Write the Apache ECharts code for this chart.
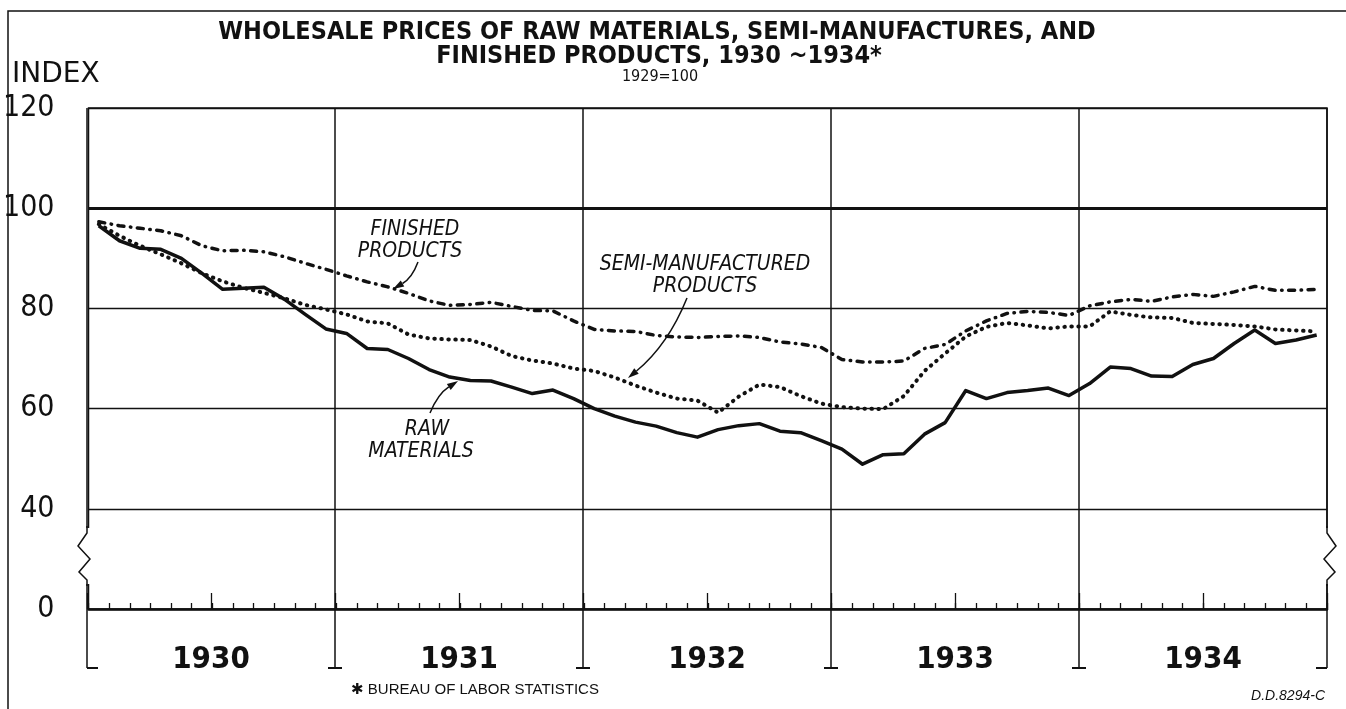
<!DOCTYPE html>
<html>
<head>
<meta charset="utf-8">
<title>Wholesale prices of raw materials, semi-manufactures and finished products, 1930-1934</title>
<script src="https://cdn.jsdelivr.net/npm/echarts@6/dist/echarts.min.js"></script>
<style>
html, body { margin: 0; padding: 0; background: #fff; }
#main { width: 1346px; height: 709px; }
</style>
</head>
<body>
<div id="main"></div>
<script>
// index numbers, 1929 = 100, monthly from Jan 1930 to Dec 1934
const years = ["1930", "1931", "1932", "1933", "1934"];
const monthNames = ["Jan", "Feb", "Mar", "Apr", "May", "Jun", "Jul", "Aug", "Sep", "Oct", "Nov", "Dec"];

const rawMaterials = [
	96.5, 93.5, 92.0, 91.8, 90.0, 87.0, 83.8, 84.0, 84.2, 81.8, 78.8, 75.9,
	75.0, 72.0, 71.8, 70.0, 67.8, 66.3, 65.6, 65.5, 64.3, 63.0, 63.7, 62.0,
	60.0, 58.5, 57.3, 56.5, 55.2, 54.3, 55.8, 56.6, 57.0, 55.5, 55.2, 53.6,
	51.9, 48.9, 50.8, 51.0, 54.9, 57.2, 63.6, 62.0, 63.2, 63.6, 64.1, 62.6,
	65.0, 68.3, 68.0, 66.5, 66.4, 68.8, 70.0, 73.0, 75.7, 73.0, 73.7, 74.7
];
const semiManufactured = [
	96.8, 94.5, 92.5, 90.8, 89.0, 87.0, 85.4, 84.1, 83.1, 82.0, 80.7, 79.8,
	78.8, 77.4, 77.0, 74.8, 74.0, 73.8, 73.7, 72.4, 70.5, 69.6, 69.0, 68.0,
	67.5, 66.2, 64.6, 63.2, 62.0, 61.6, 59.2, 62.4, 64.8, 64.3, 62.5, 61.0,
	60.3, 60.0, 59.9, 62.5, 67.5, 71.0, 74.4, 76.3, 77.1, 76.6, 76.0, 76.4,
	76.4, 79.4, 78.7, 78.2, 78.1, 77.1, 76.9, 76.7, 76.4, 75.8, 75.6, 75.4
];
const finishedProducts = [
	97.3, 96.5, 96.0, 95.5, 94.5, 92.5, 91.5, 91.6, 91.3, 90.3, 89.0, 87.8,
	86.5, 85.3, 84.3, 83.0, 81.5, 80.6, 80.8, 81.2, 80.4, 79.6, 79.5, 77.5,
	75.8, 75.5, 75.4, 74.6, 74.3, 74.2, 74.4, 74.5, 74.2, 73.3, 72.9, 72.2,
	69.8, 69.3, 69.3, 69.5, 72.0, 72.8, 75.5, 77.5, 79.0, 79.4, 79.2, 78.6,
	80.5, 81.3, 81.8, 81.4, 82.3, 82.8, 82.4, 83.3, 84.4, 83.6, 83.6, 83.8
];

// y axis: the scale is broken below 40, the bottom line stands for 0
const yMin = 20, yMax = 120, yStep = 20;
const yTickLabels = { 20: "0", 40: "40", 60: "60", 80: "80", 100: "100", 120: "120" };

const months = [];
const halfYears = [];
years.forEach(y => {
	monthNames.forEach(m => months.push(m + " " + y));
	halfYears.push("H1 " + y, "H2 " + y);
});

const INK = "#111";
const NARROW = '"Liberation Sans Narrow", "DejaVu Sans Condensed", sans-serif';
const G = { left: 87, right: 19, top: 108, bottom: 100 };
const W = 1346, H = 709;

const chart = echarts.init(document.getElementById("main"), null, { renderer: "canvas" });

function txt(text, x, y, font, align) {
	return {
		type: "text", z: 100, x: x, y: y,
		style: { text: text, font: font, fill: INK, align: align || "center", textAlign: align || "center", verticalAlign: "middle", textVerticalAlign: "middle" }
	};
}

// curved leader with an arrow head at the end
function arrow(x1, y1, cx, cy, x2, y2) {
	const dx = x2 - cx, dy = y2 - cy, len = Math.sqrt(dx * dx + dy * dy);
	const ux = dx / len, uy = dy / len;
	const bx = x2 - ux * 11, by = y2 - uy * 11;
	return [
		{ type: "bezierCurve", z: 100, shape: { x1: x1, y1: y1, x2: bx, y2: by, cpx1: cx, cpy1: cy }, style: { stroke: INK, lineWidth: 1.5, fill: null } },
		{ type: "polygon", z: 100, shape: { points: [[x2, y2], [bx - uy * 3.5, by + ux * 3.5], [bx + uy * 3.5, by - ux * 3.5]] }, style: { fill: INK } }
	];
}

const plotL = G.left, plotR = W - G.right, plotB = H - G.bottom;
const yearW = (plotR - plotL) / years.length;

// decorations: frame, broken-scale zigzags, year brackets, notes
const decor = [];
decor.push({ type: "rect", z: 1, shape: { x: 8, y: 11, width: 1360, height: 740 }, style: { fill: null, stroke: INK, lineWidth: 1.5 } });
[[plotL, 1], [plotR, -1]].forEach(([x, s]) => {
	decor.push({ type: "rect", z: 90, shape: { x: x - 4, y: 528, width: 8, height: 56 }, style: { fill: "#fff" } });
	decor.push({
		type: "polyline", z: 91,
		shape: { points: [[x, 526], [x, 533], [x - 9 * s, 546], [x + 3 * s, 559], [x - 8 * s, 572], [x, 580], [x, 586]] },
		style: { stroke: INK, lineWidth: 1.5, fill: null }
	});
});
for (let k = 0; k <= years.length; k++) {
	const bx = plotL + k * yearW;
	let a = bx - 7, b = bx + 7;
	if (k === 0) { a = bx; b = bx + 11; }
	if (k === years.length) { a = bx - 11; b = bx; }
	decor.push({ type: "line", z: 100, shape: { x1: a, y1: plotB + 59, x2: b, y2: plotB + 59 }, style: { stroke: INK, lineWidth: 2 } });
}

decor.push(
	txt("WHOLESALE PRICES OF RAW MATERIALS, SEMI-MANUFACTURES, AND", 657, 32, 'bold 25px ' + NARROW),
	txt("FINISHED PRODUCTS, 1930 ~1934*", 659, 56, 'bold 25px ' + NARROW),
	txt("1929=100", 660, 77, '16px "DejaVu Sans Condensed", sans-serif'),
	txt("INDEX", 12, 75, '28px "DejaVu Sans", sans-serif', "left"),
	txt("FINISHED", 415, 230, 'italic 21px ' + NARROW),
	txt("PRODUCTS", 410, 252, 'italic 21px ' + NARROW),
	txt("SEMI-MANUFACTURED", 705, 265, 'italic 21px ' + NARROW),
	txt("PRODUCTS", 705, 287, 'italic 21px ' + NARROW),
	txt("RAW", 427, 430, 'italic 21px ' + NARROW),
	txt("MATERIALS", 421, 452, 'italic 21px ' + NARROW),
	txt("\u2731 BUREAU OF LABOR STATISTICS", 475, 690, '15px "Liberation Sans", "DejaVu Sans", sans-serif'),
	txt("D.D.8294-C", 1325, 696, 'italic 14px "Liberation Sans", sans-serif', "right")
);
decor.push(...arrow(418, 262, 412, 278, 393, 289));
decor.push(...arrow(687, 298, 668, 345, 628, 378));
decor.push(...arrow(430, 413, 438, 394, 458, 381));

const hiddenY = i => ({ type: "value", gridIndex: i, min: yMin, max: yMax, interval: yStep, show: false });

const option = {
	backgroundColor: "#fff",
	animation: false,
	grid: [
		Object.assign({ show: true, borderColor: INK, borderWidth: 1.5, backgroundColor: "transparent" }, G),
		Object.assign({}, G),
		Object.assign({}, G)
	],
	xAxis: [
		{
			type: "category", gridIndex: 0, data: months, boundaryGap: true,
			axisLine: { show: true, lineStyle: { color: INK, width: 2.5 } },
			axisTick: { show: true, inside: true, length: 6, interval: 0, lineStyle: { color: INK, width: 1.3 } },
			axisLabel: { show: false }, splitLine: { show: false }
		},
		{
			type: "category", gridIndex: 1, data: halfYears, boundaryGap: true,
			axisLine: { show: false },
			axisTick: { show: true, inside: true, length: 16, interval: 0, lineStyle: { color: INK, width: 1.3 } },
			axisLabel: { show: false }, splitLine: { show: false }
		},
		{
			type: "category", gridIndex: 2, data: years, boundaryGap: true,
			axisLine: { show: false },
			axisTick: { show: true, inside: false, length: 59, interval: 0, lineStyle: { color: INK, width: 1.5 } },
			axisLabel: { margin: 35, interval: 0, color: INK, fontSize: 31, fontWeight: "bold", fontFamily: NARROW },
			splitLine: { show: true, interval: 0, lineStyle: { color: INK, width: 1.5 } }
		}
	],
	yAxis: [
		{
			type: "value", gridIndex: 0, min: yMin, max: yMax, interval: yStep,
			axisLine: { show: false }, axisTick: { show: false },
			axisLabel: {
				margin: 34, color: INK, fontSize: 30, fontFamily: NARROW,
				formatter: v => yTickLabels[v] || ""
			},
			splitLine: { show: true, lineStyle: { color: INK, width: 1.3 } }
		},
		hiddenY(1),
		hiddenY(2)
	],
	graphic: { elements: decor },
	series: [
		{
			name: "Raw Materials", type: "line", xAxisIndex: 0, yAxisIndex: 0, z: 5,
			data: rawMaterials, symbol: "none",
			lineStyle: { color: INK, width: 3.5, join: "round" },
			markLine: {
				silent: true, symbol: ["none", "none"], label: { show: false },
				lineStyle: { color: INK, width: 3, type: "solid" },
				data: [{ yAxis: 100 }]
			}
		},
		{
			name: "Semi-Manufactured Products", type: "line", xAxisIndex: 0, yAxisIndex: 0, z: 5,
			data: semiManufactured, symbol: "none",
			lineStyle: { color: INK, width: 4, type: [0.5, 6.5], cap: "round" }
		},
		{
			name: "Finished Products", type: "line", xAxisIndex: 0, yAxisIndex: 0, z: 5,
			data: finishedProducts, symbol: "none",
			lineStyle: { color: INK, width: 3.5, type: [6, 6.5, 0.5, 6.5], cap: "round" }
		}
	]
};

chart.setOption(option);
</script>
</body>
</html>
